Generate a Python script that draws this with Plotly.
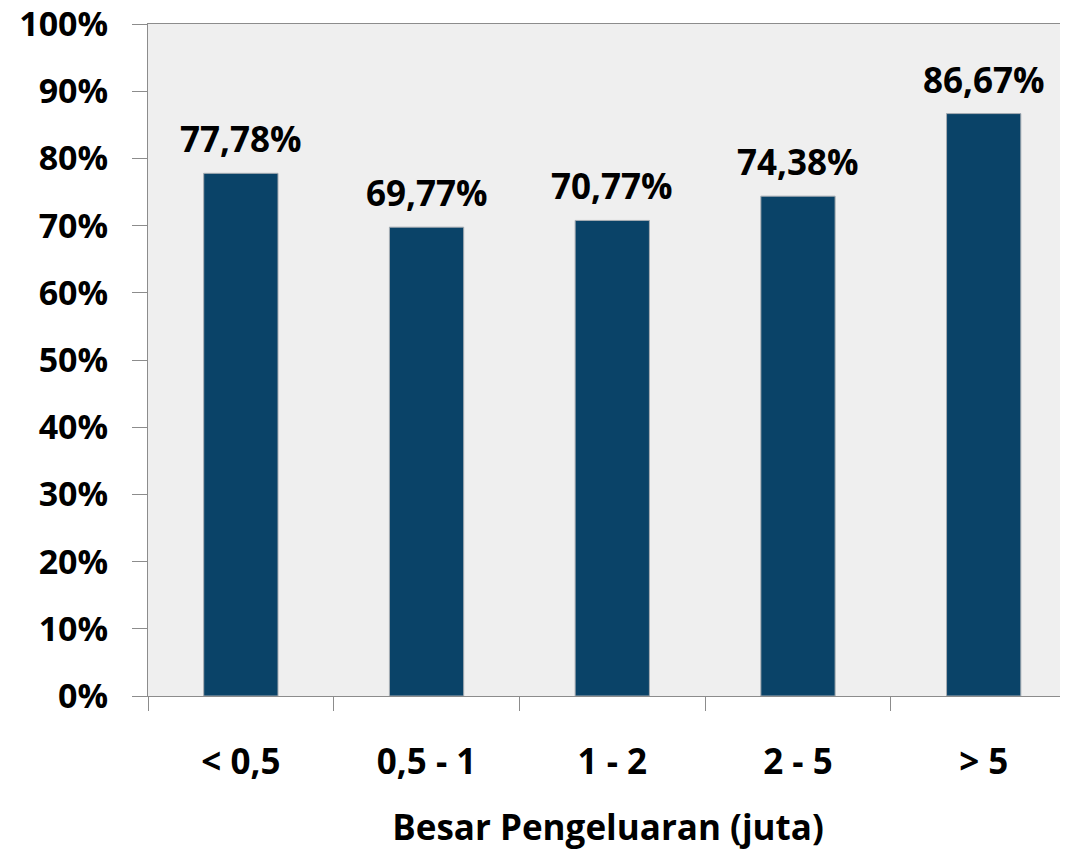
import plotly.graph_objects as go

# Besar pengeluaran (juta) vs persentase
categories = ['< 0,5', '0,5 - 1', '1 - 2', '2 - 5', '> 5']
values = [77.78, 69.77, 70.77, 74.38, 86.67]

font_name = 'Open Sans, Lato, sans-serif'
bar_color = '#0a4368'

fig = go.Figure()
fig.add_trace(go.Bar(
    x=categories,
    y=values,
    width=0.4,
    marker=dict(color=bar_color, line=dict(color='#a7adb3', width=1)),
    hoverinfo='x+y',
))

# value labels above each bar
for c, v in zip(categories, values):
    fig.add_annotation(x=c, y=v, text=f"{v:.2f}%".replace('.', ','),
                       showarrow=False, yanchor='bottom', yshift=9,
                       font=dict(family=font_name, size=35, color='black', weight='bold'))

# page body has an 8px margin, so size and margins are trimmed by that
fig.update_layout(
    width=1060, height=844,
    margin=dict(l=140, r=0, t=16, b=156),
    paper_bgcolor='white',
    plot_bgcolor='#efefef',
    showlegend=False,
    separators=',.',
    font=dict(family=font_name, size=35, color='black', weight='bold'),
    xaxis=dict(
        type='category',
        range=[-0.5, 4.454],
        tickson='boundaries',
        ticks='outside', ticklen=14, tickcolor='#8c8c8c', tickwidth=1,
        showline=True, linecolor='#8c8c8c', linewidth=1, mirror=True,
        showgrid=False,
        automargin=False,
        ticklabelstandoff=35,
        tickfont=dict(size=35),
        title=dict(text='Besar Pengeluaran (juta)', font=dict(size=35), standoff=32),
    ),
    yaxis=dict(
        range=[0, 100],
        dtick=10,
        ticksuffix='%',
        ticks='outside', ticklen=15, tickcolor='#8c8c8c', tickwidth=1,
        showline=True, linecolor='#8c8c8c', linewidth=1,
        showgrid=False, zeroline=False,
        automargin=False,
        ticklabelstandoff=17,
        ticklabeloverflow='allow',
        tickfont=dict(size=34),
    ),
)

fig.write_html("out.html")
